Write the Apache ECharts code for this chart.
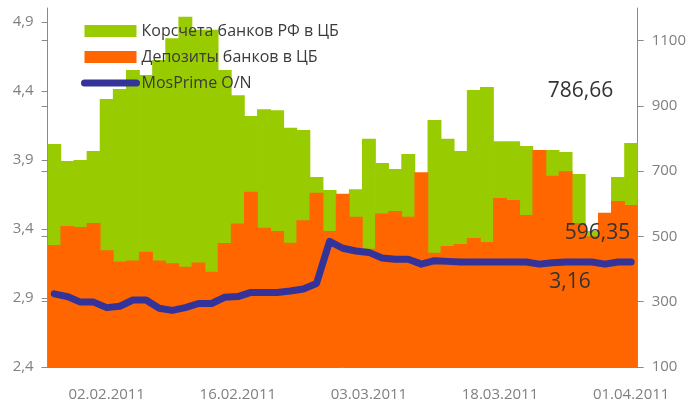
<!DOCTYPE html>
<html><head><meta charset="utf-8">
<script src="https://cdn.jsdelivr.net/npm/echarts@6/dist/echarts.min.js"></script>
<style>html,body{margin:0;padding:0;background:#fff}#c{width:689px;height:403px}</style>
</head><body><div id="c"></div>
<script>
const dates = [
  '27.01.2011','28.01.2011','31.01.2011','01.02.2011','02.02.2011','03.02.2011','04.02.2011','07.02.2011','08.02.2011','09.02.2011',
  '10.02.2011','11.02.2011','14.02.2011','15.02.2011','16.02.2011','17.02.2011','18.02.2011','21.02.2011','22.02.2011','24.02.2011',
  '25.02.2011','28.02.2011','01.03.2011','02.03.2011','03.03.2011','04.03.2011','05.03.2011','09.03.2011','10.03.2011','11.03.2011',
  '14.03.2011','15.03.2011','16.03.2011','17.03.2011','18.03.2011','21.03.2011','22.03.2011','23.03.2011','24.03.2011','25.03.2011',
  '28.03.2011','29.03.2011','30.03.2011','31.03.2011','01.04.2011'
];
// Корсчета банков РФ в ЦБ, млрд руб. (right axis)
const korrAccounts = [
  783, 731, 734, 762, 921, 952, 1010, 995, 1041, 1107,
  1173, 1133, 1133, 1010, 933, 869, 890, 887, 833, 826,
  682, 642, 610, 645, 799, 725, 707, 753, 680, 857,
  799, 762, 949, 958, 792, 792, 777, 745, 765, 759,
  691, 517, 550, 682, 786.66
];
// Депозиты банков в ЦБ, млрд руб. (right axis)
const deposits = [
  474, 532, 529, 541, 458, 423, 426, 453, 426, 418,
  407, 420, 392, 480, 540, 637, 527, 517, 481, 550,
  634, 517, 631, 560, 462, 570, 578, 560, 697, 450,
  471, 477, 495, 483, 618, 612, 566, 765, 686, 700,
  541, 501, 573, 609, 596.35
];
// MosPrime O/N, % (left axis)
const mosprime = [
  2.93, 2.91, 2.87, 2.87, 2.83, 2.84, 2.885, 2.885, 2.825, 2.81,
  2.83, 2.86, 2.86, 2.905, 2.91, 2.94, 2.94, 2.94, 2.95, 2.965,
  3.005, 3.31, 3.26, 3.24, 3.23, 3.19, 3.18, 3.18, 3.145, 3.17,
  3.165, 3.16, 3.16, 3.16, 3.16, 3.16, 3.16, 3.145, 3.155, 3.16,
  3.16, 3.16, 3.145, 3.16, 3.16
];
const leftTicks = [2.4, 2.9, 3.4, 3.9, 4.4, 4.9];
const rightTicks = [100, 300, 500, 700, 900, 1100];
const seriesNames = ['Корсчета банков РФ в ЦБ', 'Депозиты банков в ЦБ', 'MosPrime O/N'];

const FONT = 'Open Sans';
const AXIS = '#8a8a8a';
const LABEL = '#808080';
const GREEN = '#99CC00', ORANGE = '#FF6600', NAVY = '#333399';
const fmt = (v, d) => v.toFixed(d).replace('.', ',');
const last = a => a[a.length - 1];

const chart = echarts.init(document.getElementById('c'), null, {renderer: 'canvas'});
const gridPos = {left: 47.7, right: 50.3, top: 8, bottom: 36};
chart.setOption({
  animation: false,
  backgroundColor: '#fff',
  grid: [Object.assign({}, gridPos), Object.assign({}, gridPos)],
  legend: {
    left: 81, top: 23, orient: 'vertical', padding: 0,
    itemWidth: 52, itemHeight: 12, itemGap: 10,
    selectedMode: false,
    textStyle: {fontSize: 16, color: '#3a3a3a', fontFamily: FONT, lineHeight: 16},
    data: [
      {name: seriesNames[0], icon: 'rect'},
      {name: seriesNames[1], icon: 'rect'},
      {name: seriesNames[2], lineStyle: {width: 7, cap: 'round'},
       itemStyle: {color: 'rgba(0,0,0,0)', borderWidth: 0, opacity: 0}}
    ]
  },
  xAxis: [{
    type: 'category', data: dates, boundaryGap: true, gridIndex: 0,
    axisLine: {lineStyle: {color: AXIS, width: 1}},
    axisTick: {interval: 4, length: 6, lineStyle: {color: AXIS}},
    axisLabel: {interval: (i) => i % 10 === 4, color: LABEL, fontSize: 15, fontFamily: FONT, margin: 20},
    splitLine: {show: false}
  }, {
    type: 'value', gridIndex: 1, show: false, min: 0, max: 1
  }],
  yAxis: [{
    type: 'value', position: 'left', min: 2.4, max: 5.0, gridIndex: 0,
    axisLine: {show: true, lineStyle: {color: AXIS}},
    axisTick: {show: true, length: 6, customValues: leftTicks, lineStyle: {color: AXIS}},
    axisLabel: {customValues: leftTicks, formatter: v => fmt(v, 1), color: LABEL, fontSize: 15, fontFamily: FONT, margin: 14},
    splitLine: {show: false}
  }, {
    type: 'value', position: 'right', min: 100, max: 1200, gridIndex: 0,
    axisLine: {show: true, lineStyle: {color: AXIS}},
    axisTick: {show: true, length: 6, customValues: rightTicks, lineStyle: {color: AXIS}},
    axisLabel: {customValues: rightTicks, formatter: v => String(v), color: LABEL, fontSize: 15, fontFamily: FONT, margin: 14},
    splitLine: {show: false}
  }, {
    type: 'value', position: 'right', min: 100, max: 1200, gridIndex: 1,
    axisLine: {show: false},
    axisTick: {show: true, inside: true, length: 6, customValues: rightTicks, lineStyle: {color: AXIS}},
    axisLabel: {show: false},
    splitLine: {show: false}
  }],
  series: [{
    name: seriesNames[0], type: 'bar', xAxisIndex: 0, yAxisIndex: 1, data: korrAccounts,
    barWidth: 13.9, barGap: '-100%', clip: true,
    itemStyle: {color: GREEN}, emphasis: {disabled: true}
  }, {
    name: seriesNames[1], type: 'bar', xAxisIndex: 0, yAxisIndex: 1, data: deposits,
    barWidth: 13.9, barGap: '-100%', clip: true,
    itemStyle: {color: ORANGE}, emphasis: {disabled: true}
  }, {
    name: seriesNames[2], type: 'line', xAxisIndex: 0, yAxisIndex: 0, data: mosprime,
    symbol: 'none', z: 5,
    lineStyle: {width: 7, color: NAVY, cap: 'round', join: 'round'},
    itemStyle: {color: NAVY}, emphasis: {disabled: true}
  }],
  graphic: [
    {type: 'text', x: 580.5, y: 91, z: 100, style: {text: fmt(last(korrAccounts), 2), font: '21px "Open Sans"', fill: '#333', align: 'center', verticalAlign: 'middle'}},
    {type: 'text', x: 597.5, y: 233.5, z: 100, style: {text: fmt(last(deposits), 2), font: '21px "Open Sans"', fill: '#333', align: 'center', verticalAlign: 'middle'}},
    {type: 'text', x: 570, y: 282.5, z: 100, style: {text: fmt(last(mosprime), 2), font: '21px "Open Sans"', fill: '#333', align: 'center', verticalAlign: 'middle'}}
  ]
});
</script>
</body></html>
